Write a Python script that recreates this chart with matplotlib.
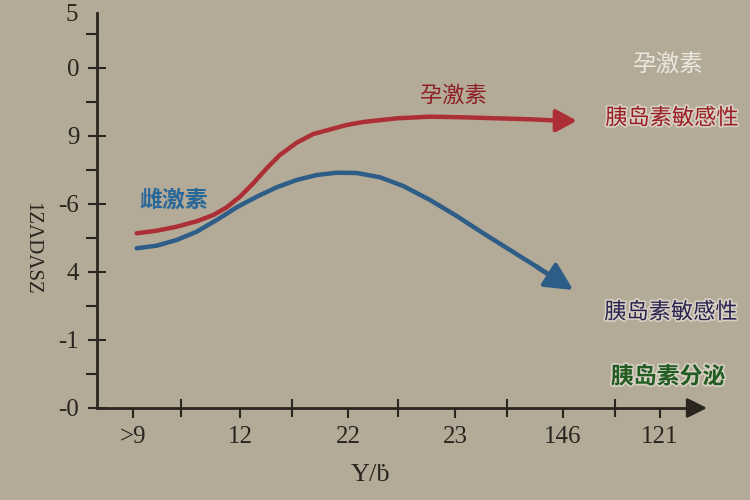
import matplotlib
matplotlib.use('Agg')
import matplotlib.pyplot as plt
import matplotlib.patheffects as pe

# ---------------- data ----------------
x_ticks = [0, 1, 2, 3, 4, 4.9]
x_labels = ['>9', '12', '22', '23', '146', '121']
x_minor = [0.45, 1.48, 2.47, 3.48, 4.48]
y_ticks = [0, 1, 2, 3, 4, 5]
y_labels = ['-0', '-1', '4', '-6', '9', '0']
y_minor = [0.5, 1.5, 2.5, 3.5, 4.5, 5.5]
y_top_label = '5'
x_title = 'Y/ḃ'
y_title = '1ZΛDΛSZ'

red_x = [0.034, 0.220, 0.407, 0.593, 0.747, 0.872, 0.995, 1.119, 1.244, 1.367, 1.523,
         1.677, 1.833, 1.988, 2.142, 2.453, 2.763, 3.073, 3.383, 3.693, 3.972, 4.130]
red_y = [2.569, 2.607, 2.666, 2.746, 2.838, 2.951, 3.107, 3.304, 3.525, 3.721, 3.901,
         4.029, 4.096, 4.162, 4.206, 4.260, 4.284, 4.275, 4.260, 4.246, 4.225, 4.225]
blue_x = [0.034, 0.220, 0.407, 0.593, 0.779, 0.965, 1.151, 1.337, 1.523, 1.709, 1.895,
          2.081, 2.298, 2.514, 2.763, 3.011, 3.259, 3.507, 3.755, 3.941, 4.096]
blue_y = [2.349, 2.387, 2.471, 2.593, 2.765, 2.951, 3.107, 3.246, 3.353, 3.426, 3.460,
          3.456, 3.393, 3.265, 3.059, 2.824, 2.569, 2.324, 2.078, 1.882, 1.735]

# ---------------- style ----------------
BG = '#b3aa97'
INK = '#2b2520'
RED = '#ad2f36'
BLUE = '#2e5d88'
CJK = ['Noto Sans CJK SC', 'DejaVu Sans']
SERIF = ['Liberation Serif', 'DejaVu Serif']

fig = plt.figure(figsize=(7.5, 5), dpi=100)
fig.patch.set_facecolor(BG)
ax = fig.add_axes([0, 0, 1, 1])
ax.set_facecolor(BG)
ax.set_xlim(-1.237, 5.740)
ax.set_ylim(-1.353, 6.0)

for s in ['top', 'right']:
    ax.spines[s].set_visible(False)
ax.spines['left'].set_position(('data', -0.335))
ax.spines['left'].set_bounds(0, 5.81)
ax.spines['bottom'].set_position(('data', 0))
ax.spines['bottom'].set_bounds(-0.335, 5.2)
for s in ['left', 'bottom']:
    ax.spines[s].set_color(INK)
    ax.spines[s].set_linewidth(2.0)

ax.set_xticks(x_ticks)
ax.set_xticklabels(x_labels, fontfamily=SERIF, fontsize=18, color=INK)
ax.set_xticks(x_minor, minor=True)
ax.set_yticks(y_ticks)
ax.set_yticklabels(y_labels, fontfamily=SERIF, fontsize=18, color=INK)
ax.set_yticks(y_minor, minor=True)

ax.tick_params(axis='x', which='major', direction='out', length=7, width=1.5, color=INK, pad=6)
ax.tick_params(axis='x', which='minor', direction='inout', length=13, width=1.5, color=INK)
ax.tick_params(axis='y', which='major', direction='inout', length=13.5, width=1.5, color=INK, pad=6)
ax.tick_params(axis='y', which='minor', direction='out', length=8, width=1.5, color=INK)

# x-axis arrow head
ax.annotate('', xy=(5.34, 0), xytext=(5.15, 0),
            arrowprops=dict(arrowstyle='-|>,head_length=0.5,head_width=0.25',
                            mutation_scale=24, color=INK, lw=2, shrinkA=0, shrinkB=0))

ax.text(-0.512, 5.78, y_top_label, ha='right', va='center', fontfamily=SERIF,
        fontsize=18, color=INK)
ax.text(2.21, -0.98, x_title, ha='center', va='center', fontfamily=SERIF,
        fontsize=19, color=INK)
ax.text(-0.94, 2.35, y_title, ha='center', va='center', rotation=270,
        fontfamily=SERIF, fontsize=15, color=INK)

# curves
ax.plot(red_x[:-1], red_y[:-1], color=RED, lw=3.2, solid_capstyle='round',
        solid_joinstyle='round')
ax.annotate('', xy=(red_x[-1], red_y[-1]), xytext=(red_x[-2], red_y[-2]),
            arrowprops=dict(arrowstyle='-|>,head_length=0.5,head_width=0.27',
                            mutation_scale=25, color=RED, lw=3.2, shrinkA=0, shrinkB=0))
ax.plot(blue_x[:-1], blue_y[:-1], color=BLUE, lw=3.2, solid_capstyle='round',
        solid_joinstyle='round')
ax.annotate('', xy=(blue_x[-1], blue_y[-1]), xytext=(blue_x[-3], blue_y[-3]),
            arrowprops=dict(arrowstyle='-|>,head_length=0.6,head_width=0.3',
                            mutation_scale=28, color=BLUE, lw=3.2, shrinkA=0, shrinkB=0))

halo = [pe.withStroke(linewidth=2.5, foreground='#d6cfc2')]

ax.text(2.976, 4.60, '孕激素', ha='center', va='center', fontfamily=CJK,
        fontsize=16, color='#8e1f26', fontweight='medium')
ax.text(0.381, 3.06, '雌激素', ha='center', va='center', fontfamily=CJK,
        fontsize=16.5, color='#2a6899', fontweight='bold')
ax.text(4.977, 5.04, '孕激素', ha='center', va='center', fontfamily=CJK,
        fontsize=17, color='#ece7de')
ax.text(5.014, 4.265, '胰岛素敏感性', ha='center', va='center', fontfamily=CJK,
        fontsize=16, color='#9a1d24', fontweight='medium', path_effects=halo)
ax.text(5.005, 1.41, '胰岛素敏感性', ha='center', va='center', fontfamily=CJK,
        fontsize=16, color='#2a2350', fontweight='medium', path_effects=halo)
ax.text(4.977, 0.456, '胰岛素分泌', ha='center', va='center', fontfamily=CJK,
        fontsize=16.5, color='#215c22', fontweight='bold', path_effects=halo)

fig.savefig('out.png', dpi=100, facecolor=BG)
